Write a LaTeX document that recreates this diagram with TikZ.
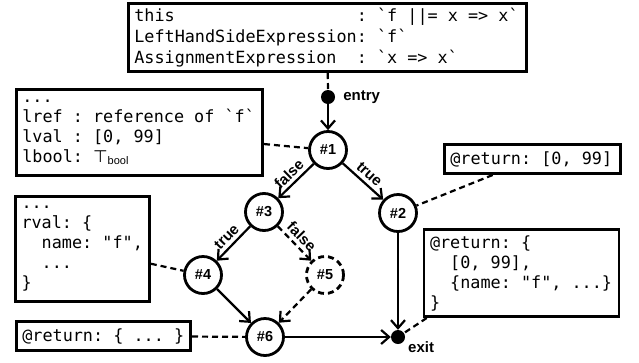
\documentclass[tikz,border=0pt]{standalone}
\usepackage{fontspec}
\setmonofont{DejaVu Sans Mono}
\setsansfont{Liberation Sans}
\newfontfamily\symfont{DejaVu Sans}
\usetikzlibrary{arrows.meta}
\newcommand\gaps[1]{\hspace*{#1\fontcharwd\font`x}}
\newcommand\gap{\gaps{1}}
\begin{document}
\begin{tikzpicture}[x=1pt,y=-1pt,
  code/.style={draw, line width=2.6pt, align=left, inner xsep=6pt, inner ysep=0pt,
    font=\ttfamily\fontsize{16.8}{20}\selectfont},
  state/.style={circle, draw, line width=2.8pt, minimum size=37pt, inner sep=0pt,
    font=\sffamily\bfseries\fontsize{14.5}{14.5}\selectfont},
  dot/.style={circle, fill, inner sep=0pt, minimum size=14pt},
  lbl/.style={font=\sffamily\bfseries\fontsize{15}{15}\selectfont, inner sep=0pt},
  elbl/.style={font=\sffamily\bfseries\fontsize{15}{15}\selectfont, sloped, above, inner sep=3.5pt, midway},
  flow/.style={line width=2.2pt, -{Straight Barb[length=8pt,width=14pt,line width=2.2pt]}},
  note/.style={line width=2.2pt, dash pattern=on 6pt off 4pt},
]
\fill[white] (0,0) rectangle (639,362);
\useasboundingbox (0,0) rectangle (639,362);

% code boxes
\node[code, minimum width=398.4pt, minimum height=68.4pt, text width=386.4pt,
  font=\ttfamily\fontsize{16.8}{21}\selectfont] (top) at (327.5,37.5)
  {this\gaps{18}:\gap`f\gap||=\gap x\gap=>\gap x`\\LeftHandSideExpression:\gap`f`\\AssignmentExpression\gaps{2}:\gap`x\gap=>\gap x`};
\node[code, minimum width=246.4pt, minimum height=86.4pt, text width=234.4pt] (b1) at (139.5,132.5)
  {...\\lref\gap:\gap reference\gap of\gap`f`\\lval\gap:\gap[0,\gap 99]\\lbool:\gap{\symfont ⊤}\raisebox{-2pt}{\sffamily\fontsize{11}{11}\selectfont bool}};
\node[code, minimum width=132.4pt, minimum height=105.4pt, text width=122pt] (b2) at (82.5,249)
  {...\\rval:\gap\{\\\gaps{2}name:\gap"f",\\\gaps{2}...\\\}};
\node[code, minimum width=174.4pt, minimum height=29.4pt, text width=162.4pt] (b3) at (103.5,336)
  {@return:\gap\{\gap...\gap\}};
\node[code, minimum width=176.4pt, minimum height=29.4pt, text width=164.4pt] (b4) at (532.5,159)
  {@return:\gap[0,\gap 99]};
\node[code, minimum width=194.4pt, minimum height=87.4pt, text width=183pt] (b5) at (521.5,273)
  {@return:\gap\{\\\gaps{2}[0,\gap 99],\\\gaps{2}\{name:\gap"f",\gap...\}\\\}};

% states
\node[dot] (entry) at (328,97) {};
\node[lbl, anchor=west] (entrylbl) at ([xshift=8pt]entry.east) {entry};
\node[state] (n1) at (328,150) {\#1};
\node[state] (n3) at (264,212) {\#3};
\node[state] (n2) at (398,213) {\#2};
\node[state] (n4) at (203,275) {\#4};
\node[state, dash pattern=on 6pt off 4pt] (n5) at (325,275) {\#5};
\node[state] (n6) at (265,337) {\#6};
\node[dot] (exit) at (398,337) {};
\node[lbl, anchor=north west] (exitlbl) at ([xshift=10pt,yshift=-4pt]exit) {exit};

% flow edges
\draw[flow] (entry) -- (n1);
\draw[flow] (n1) -- node[elbl]{false} (n3);
\draw[flow] (n1) -- node[elbl]{true} (n2);
\draw[flow] (n3) -- node[elbl]{true} (n4);
\draw[flow, dash pattern=on 6pt off 4pt] (n3) -- node[elbl]{false} (n5);
\draw[flow] (n4) -- (n6);
\draw[flow, dash pattern=on 6pt off 4pt] (n5) -- (n6);
\draw[flow] (n2) -- (exit);
\draw[flow] (n6) -- (exit);

% annotation links
\draw[note] (top) -- (entry);
\draw[note] (b1) -- (n1);
\draw[note] (b2) -- (n4);
\draw[note] (b3) -- (n6);
\draw[note] (b4) -- (n2);
\draw[note] ([xshift=4pt]b5.south west) -- (exit);
\end{tikzpicture}
\end{document}
